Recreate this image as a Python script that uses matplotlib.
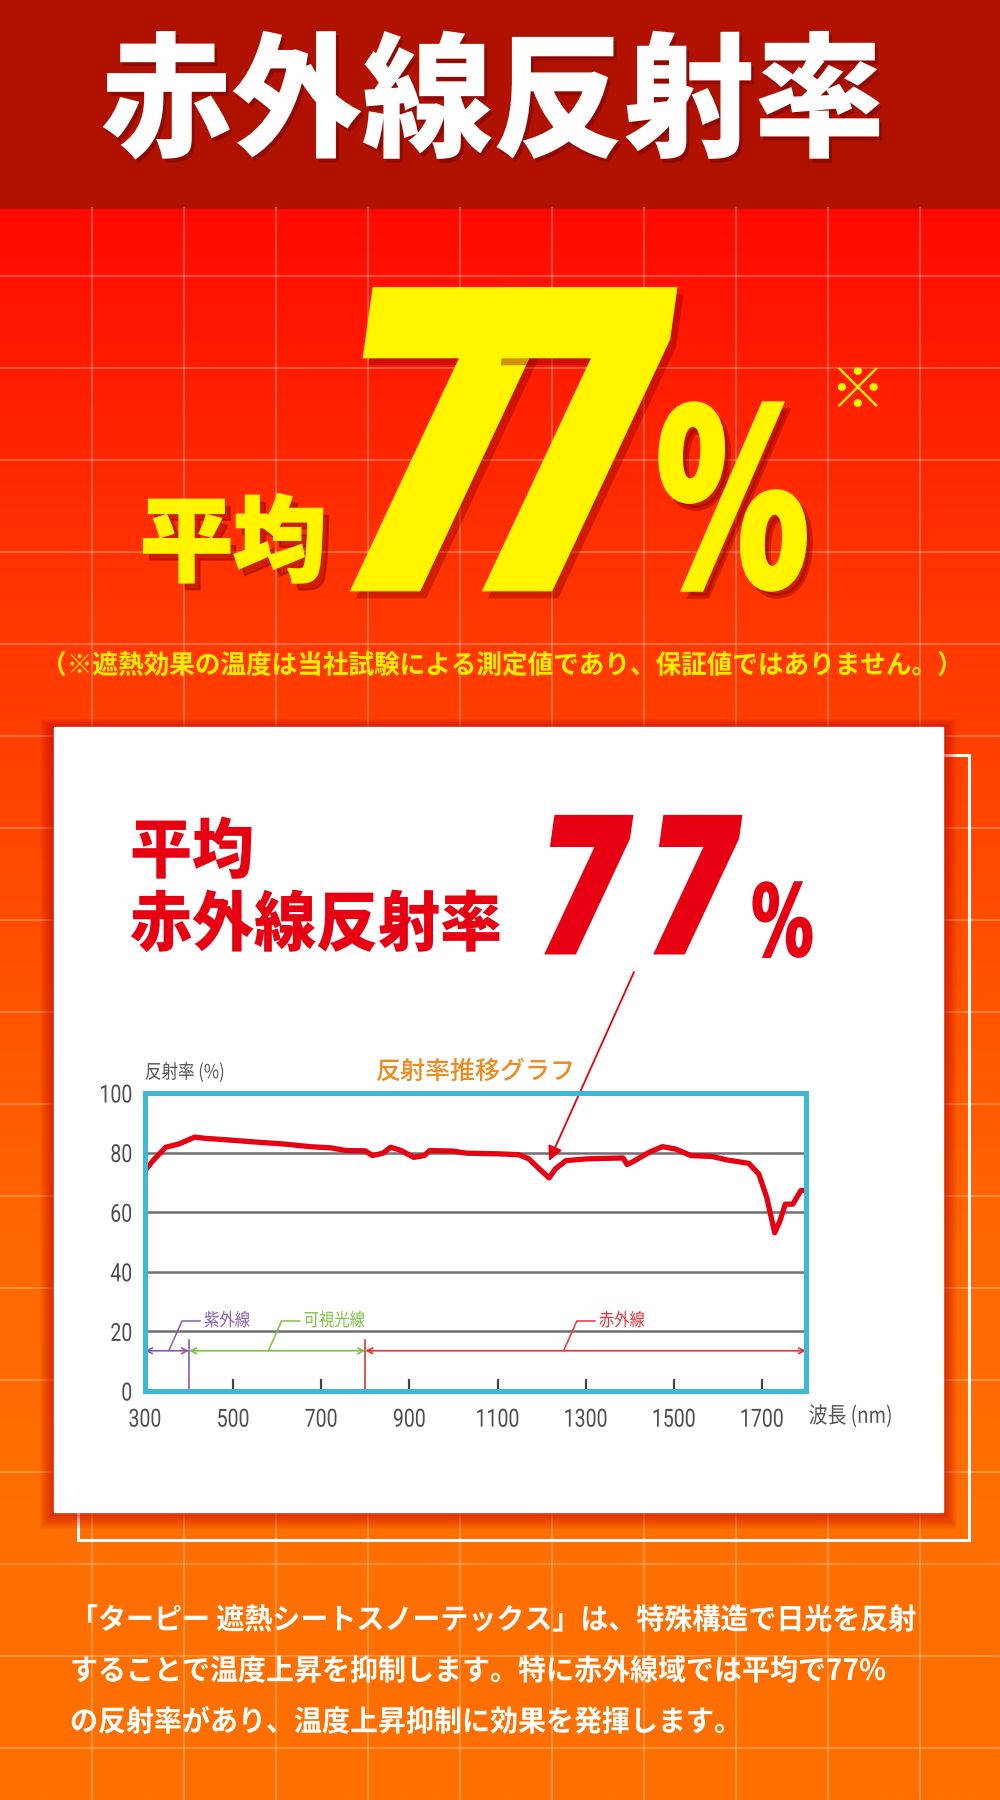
import numpy as np
import matplotlib
matplotlib.use("Agg")
import matplotlib.pyplot as plt
from matplotlib.patches import Rectangle
from matplotlib.transforms import Affine2D
import matplotlib.patheffects as pe

plt.rcParams['font.family'] = ['Noto Sans CJK JP', 'DejaVu Sans']

# ---------------- data ----------------
wavelength = [300, 303, 318, 347, 377, 413, 436, 484, 555, 614, 674, 721, 757, 800, 816, 840, 857,
              880, 910, 934, 946, 1000, 1029, 1100, 1148, 1171, 1195, 1217, 1231, 1255, 1302,
              1385, 1394, 1409, 1444, 1474, 1504, 1539, 1587, 1622, 1670, 1693, 1711, 1729,
              1741, 1753, 1770, 1788, 1800]
reflectance = [74.0, 74.5, 77.3, 81.8, 82.9, 85.2, 84.8, 84.3, 83.5, 82.9, 82.0, 81.6, 80.7, 80.6, 79.0,
               79.8, 81.8, 80.8, 78.4, 79.0, 80.7, 80.5, 79.8, 79.6, 79.3, 77.9, 74.5, 71.5, 74.5,
               77.3, 77.9, 78.2, 76.0, 77.1, 80.1, 82.0, 81.2, 79.0, 78.7, 77.5, 76.4, 72.8, 64.9,
               53.1, 57.1, 62.7, 62.7, 67.2, 67.4]
x_ticks = [300, 500, 700, 900, 1100, 1300, 1500, 1700]
y_ticks = [0, 20, 40, 60, 80, 100]
region_names = ['紫外線', '可視光線', '赤外線']
region_start = [300, 400, 800]
region_end = [400, 800, 1800]
region_colors = ['#8a5cb0', '#7cc243', '#e8313b']
region_arrow_y = 13.5
region_label_y = 23.5
average_value = '77'
arrow_target = (1217, 77.2)

title_text = '赤外線反射率'
caption_text = '（※遮熱効果の温度は当社試験による測定値であり、保証値ではありません。）'
body_lines = ['「ターピー 遮熱シートスノーテックス」は、特殊構造で日光を反射',
              'することで温度上昇を抑制します。特に赤外線域では平均で77%',
              'の反射率があり、温度上昇抑制に効果を発揮します。']


class Squeeze(pe.AbstractPathEffect):
    """Horizontally condense / slant / embolden a text path around an anchor of its own bbox."""

    def __init__(self, sx=1.0, skew=0.0, anchor='center', shadow=None, stroke=0):
        super().__init__()
        self.sx, self.skew, self.anchor, self.shadow, self.stroke = sx, skew, anchor, shadow, stroke

    def draw_path(self, renderer, gc, tpath, affine, rgbFace=None):
        v = affine.transform(tpath.vertices)
        if len(v) == 0:
            return
        x0, y0 = v.min(axis=0)
        x1, y1 = v.max(axis=0)
        axp = {'left': x0, 'right': x1}.get(self.anchor, (x0 + x1) / 2)
        ayp = (y0 + y1) / 2
        t = Affine2D().translate(-axp, -ayp).skew_deg(self.skew, 0).scale(self.sx, 1).translate(axp, ayp)
        if self.shadow is not None:
            dx, dy, col, alpha = self.shadow
            g = renderer.new_gc()
            g.copy_properties(gc)
            g.set_alpha(alpha)
            g.set_foreground(col)
            g.set_linewidth(self.stroke)
            g.set_joinstyle('miter')
            renderer.draw_path(g, tpath, affine + t + Affine2D().translate(dx, dy),
                               matplotlib.colors.to_rgba(col, alpha))
            g.restore()
        if self.stroke:
            g = renderer.new_gc()
            g.copy_properties(gc)
            g.set_foreground(rgbFace)
            g.set_linewidth(self.stroke)
            g.set_joinstyle('miter')
            renderer.draw_path(g, tpath, affine + t, rgbFace)
            g.restore()
        else:
            renderer.draw_path(gc, tpath, affine + t, rgbFace)


W, H = 1000, 1800
fig = plt.figure(figsize=(10, 18), dpi=100)
bg = fig.add_axes([0, 0, 1, 1])
bg.set_xlim(0, W)
bg.set_ylim(H, 0)
bg.axis('off')

# gradient background
ys = np.linspace(0, H, 600)
g_pos = [208, 560, 900, 1250, 1500, 1800]
g_val = [10, 51, 76, 104, 110, 112]
gch = np.interp(ys, g_pos, g_val) / 255.0
img = np.zeros((len(ys), 2, 3))
img[:, :, 0] = 1.0
img[:, :, 1] = gch[:, None]
bg.imshow(img, extent=[0, W, H, 0], aspect='auto', zorder=0, interpolation='bilinear')

# header band
bg.add_patch(Rectangle((0, 0), W, 208, color='#b11200', zorder=1))

# faint grid
for k in range(1, 11):
    bg.plot([92 * k, 92 * k], [208, H], color='white', alpha=0.25, lw=1.5, zorder=1)
for k in range(3, 20):
    bg.plot([0, W], [92 * k, 92 * k], color='white', alpha=0.25, lw=1.5, zorder=1)

# header title
bg.text(493, 106, title_text, color='white', fontsize=97, fontweight='black',
        ha='center', va='center', zorder=3,
        path_effects=[Squeeze(sx=0.97, shadow=(3, -4, '#6a0000', 0.45))])

# big yellow headline
yellow = '#fff500'
ysh = (6, -7, '#8a0000', 0.4)
bg.text(233, 546, '平均', color=yellow, fontsize=67, fontweight='black', ha='center', va='center',
        zorder=3, path_effects=[Squeeze(sx=1.0, shadow=ysh, stroke=1.5)])
bg.text(444, 474, average_value[0], color=yellow, fontsize=284, fontweight='bold',
        family='DejaVu Sans', ha='center', va='center', zorder=3,
        path_effects=[Squeeze(sx=0.72, skew=11, shadow=ysh, stroke=12)])
bg.text(576, 474, average_value[1], color=yellow, fontsize=284, fontweight='bold',
        family='DejaVu Sans', ha='center', va='center', zorder=3,
        path_effects=[Squeeze(sx=0.72, skew=11, shadow=ysh, stroke=12)])
bg.text(734, 518, '%', color=yellow, fontsize=176, fontweight='bold',
        family='DejaVu Sans', ha='center', va='center', zorder=3,
        path_effects=[Squeeze(sx=0.64, skew=4, shadow=ysh, stroke=4)])
bg.text(857, 392, '※', color=yellow, fontsize=40, fontweight='bold', ha='center', va='center', zorder=3)

bg.text(502, 666, caption_text, color='#ffee00', fontsize=19, fontweight='bold',
        ha='center', va='center', zorder=3, path_effects=[Squeeze(sx=0.97)])

# panel outline, shadow, panel
bg.add_patch(Rectangle((78, 755), 969 - 78, 1540 - 755, fill=False, ec='white', lw=2.2, zorder=2))
for i in range(14, 0, -1):
    bg.add_patch(Rectangle((54 - i, 727 - i * 0.6), 889 + 2 * i, 785 + i * 1.8,
                           color='#c40800', alpha=0.06, lw=0, zorder=2))
bg.add_patch(Rectangle((54, 727), 889, 785, color='white', zorder=3))

# panel headline
red = '#e60012'
bg.text(130, 853, '平均', color=red, fontsize=47, fontweight='black', ha='left', va='center', zorder=4,
        path_effects=[Squeeze(sx=0.95, anchor='left')])
bg.text(130, 926, '赤外線反射率', color=red, fontsize=47, fontweight='black', ha='left', va='center', zorder=4,
        path_effects=[Squeeze(sx=0.95, anchor='left')])
bg.text(587, 901, average_value[0], color=red, fontsize=131, fontweight='bold', family='DejaVu Sans',
        ha='center', va='center', zorder=4, path_effects=[Squeeze(sx=0.72, skew=11, stroke=5)])
bg.text(696, 901, average_value[1], color=red, fontsize=131, fontweight='bold', family='DejaVu Sans',
        ha='center', va='center', zorder=4, path_effects=[Squeeze(sx=0.72, skew=11, stroke=5)])
bg.text(783, 928, '%', color=red, fontsize=71, fontweight='bold', family='DejaVu Sans',
        ha='center', va='center', zorder=4, path_effects=[Squeeze(sx=0.64, skew=3, stroke=1.5)])

# body text
for i, line in enumerate(body_lines):
    bg.text(70, 1620 + 51 * i, line, color='white', fontsize=21, fontweight='bold',
            ha='left', va='center', zorder=3, path_effects=[Squeeze(sx=0.96, anchor='left')])

# ---------------- chart ----------------
L, R, T, B = 145, 806, 1093, 1391
ax = fig.add_axes([L / W, 1 - B / H, (R - L) / W, (B - T) / H], zorder=5)
ax.set_facecolor('white')
ax.plot(wavelength, reflectance, color=red, lw=3.8, solid_joinstyle='round', zorder=4)
ax.set_xlim(300, 1800)
ax.set_ylim(0, 100)
for s in ax.spines.values():
    s.set_color('#3db9d3')
    s.set_linewidth(3.6)
    s.set_zorder(6)
ax.set_yticks(y_ticks)
ax.set_xticks(x_ticks)
ax.yaxis.grid(True, color='#707070', lw=1.8, zorder=1)
ax.set_axisbelow(True)
ax.tick_params(axis='y', length=0, pad=9, labelsize=18, labelcolor='#4d4d4d')
ax.tick_params(axis='x', direction='in', length=9, width=1.6, color='#444444', pad=12,
               labelsize=18, labelcolor='#4d4d4d')
for lab in ax.xaxis.get_majorticklabels():
    lab.set_family(['Roboto', 'DejaVu Sans'])
    lab.set_path_effects([Squeeze(sx=0.78)])
for lab in ax.yaxis.get_majorticklabels():
    lab.set_family(['Roboto', 'DejaVu Sans'])
    lab.set_path_effects([Squeeze(sx=0.78, anchor='right')])

# regions
for name, s, e, c in zip(region_names, region_start, region_end, region_colors):
    ax.annotate('', xy=(s, region_arrow_y), xytext=(e, region_arrow_y),
                arrowprops=dict(arrowstyle='<->', color=c, lw=1.2, shrinkA=0, shrinkB=0,
                                mutation_scale=10))
    x0 = s + 0.45 * (e - s) if e - s > 100 else s + 0.54 * (e - s)
    ax.plot([x0, x0 + 30, x0 + 71], [region_arrow_y, region_label_y, region_label_y], color=c, lw=1.1)
    ax.text(x0 + 80, region_label_y, name, color=c, fontsize=13, ha='left', va='center',
            path_effects=[Squeeze(sx=0.85, anchor='left')])
for s, c in zip(region_start[1:], [region_colors[0], region_colors[2]]):
    ax.plot([s, s], [0, 17], color=c, lw=1.2)

ax.text(0.0, 1.068, '反射率 (%)', transform=ax.transAxes, color='#555555', fontsize=14,
        ha='left', va='center', path_effects=[Squeeze(sx=0.85, anchor='left')])
ax.text(0.5, 1.072, '反射率推移グラフ', transform=ax.transAxes, color='#ee8a1f', fontsize=18,
        fontweight='medium', ha='center', va='center')
ax.text(1.004, -0.084, '波長 (nm)', transform=ax.transAxes, color='#555555', fontsize=16,
        ha='left', va='center', path_effects=[Squeeze(sx=0.85, anchor='left')])

ax.annotate('', xy=arrow_target, xycoords='data', xytext=(634 / W, 1 - 972 / H),
            textcoords='figure fraction', annotation_clip=False,
            arrowprops=dict(arrowstyle='-|>', color=red, lw=1.3, mutation_scale=22, shrinkA=0, shrinkB=0))

fig.savefig('out.png', dpi=100)
